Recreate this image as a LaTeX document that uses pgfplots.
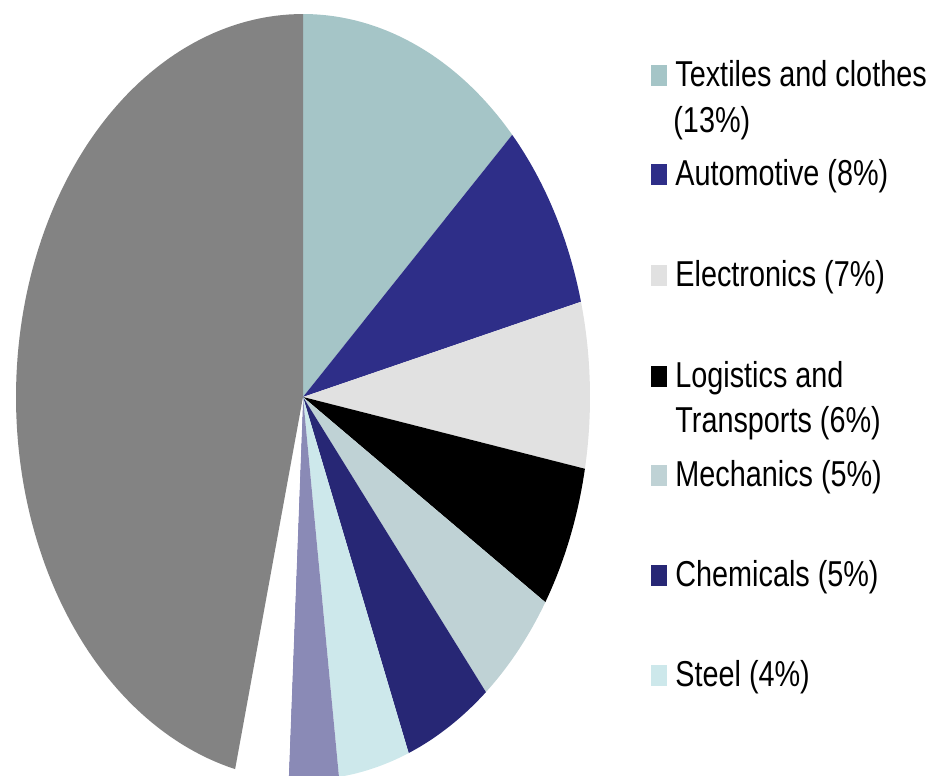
\documentclass[border=0pt]{standalone}
\usepackage{pgfplots}
\pgfplotsset{compat=1.18}
\usepackage{fontspec}
\setmainfont{Liberation Sans}[FakeStretch=0.8]

\definecolor{cTex}{HTML}{A5C5C7}
\definecolor{cAuto}{HTML}{2E2E88}
\definecolor{cElec}{HTML}{E1E1E1}
\definecolor{cLog}{HTML}{000000}
\definecolor{cMech}{HTML}{BFD2D5}
\definecolor{cChem}{HTML}{272775}
\definecolor{cSteel}{HTML}{CDE8EB}
\definecolor{cOth}{HTML}{8A8AB6}
\definecolor{cRest}{HTML}{838383}

% one wedge per call: share in percent, colour; wedges run clockwise from the top
\xdef\cum{0}
\newcommand\slice[2]{%
  \pgfmathparse{90-3.6*\cum}\xdef\angA{\pgfmathresult}%
  \pgfmathparse{\cum+#1}\xdef\cum{\pgfmathresult}%
  \pgfmathparse{90-3.6*\cum}\xdef\angB{\pgfmathresult}%
  \edef\temp{\noexpand\addplot[fill=#2, draw=none, domain=\angB:\angA, samples=120]
    ({cos(x)},{sin(x)}) -- (axis cs:0,0) -- cycle;}%
  \temp
}

\begin{document}
\begin{tikzpicture}
  \path (0,0) rectangle (466.5pt,-388pt);
  \begin{axis}[
      at={(8pt,-388pt)}, anchor=south west,
      scale only axis,
      width=287pt, height=388pt,
      xmin=-1, xmax=1,
      ymin=-0.9896, ymax=1.0366,
      hide axis,
    ]
    \slice{13}{cTex}
    \slice{8}{cAuto}
    \slice{7}{cElec}
    \slice{6}{cLog}
    \slice{5}{cMech}
    \slice{5}{cChem}
    \slice{4}{cSteel}
    \slice{2.8}{cOth}
    \slice{3}{white}
    \slice{46.2}{cRest}
  \end{axis}

  % legend, in pixels of the picture (y downwards)
  \begin{scope}[x=0.5pt, y=-0.5pt, every node/.style={anchor=base west, inner sep=0pt,
      font=\fontsize{18}{22}\selectfont}]
    \fill[cTex]   (651,65)  rectangle (667,86);
    \node at (675,86)  {Textiles and clothes};
    \node at (673,132) {(13\%)};
    \fill[cAuto]  (651,164) rectangle (667,185);
    \node at (675,185) {Automotive (8\%)};
    \fill[cElec]  (651,265) rectangle (667,286);
    \node at (675,286) {Electronics (7\%)};
    \fill[cLog]   (651,366) rectangle (667,387);
    \node at (675,387) {Logistics and};
    \node at (675,432) {Transports (6\%)};
    \fill[cMech]  (651,465) rectangle (667,486);
    \node at (675,486) {Mechanics (5\%)};
    \fill[cChem]  (651,565) rectangle (667,586);
    \node at (675,586) {Chemicals (5\%)};
    \fill[cSteel] (651,665) rectangle (667,686);
    \node at (675,686) {Steel (4\%)};
  \end{scope}
\end{tikzpicture}
\end{document}
